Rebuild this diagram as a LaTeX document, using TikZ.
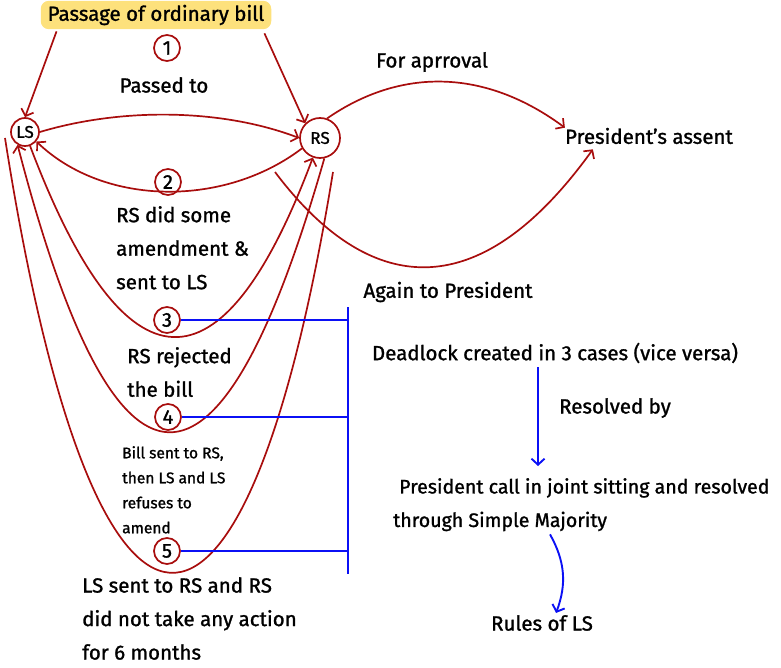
\documentclass[tikz,border=0pt]{standalone}
\usepackage{fontspec}
\setmainfont{Fira Sans}[UprightFeatures={FakeBold=1.2}]
\usetikzlibrary{arrows.meta,positioning,calc}
\definecolor{obRed}{HTML}{A80D0D}
\definecolor{obBlue}{HTML}{0B10F5}
\definecolor{obHigh}{HTML}{FDE17C}
\tikzset{
  obtext/.style={font=\fontsize{20.5}{33.5}\selectfont, align=left, inner sep=0pt},
  obsmall/.style={font=\fontsize{15.5}{25}\selectfont, align=left, inner sep=0pt},
  obtitle/.style={obtext, fill=obHigh, rounded corners=8pt, inner xsep=7pt, inner ysep=4pt},
  obhouse/.style={circle, draw=obRed, line width=1.7pt, inner sep=0pt, font=\fontsize{17}{20}\selectfont},
  obnum/.style={circle, draw=obRed, line width=1.7pt, minimum size=26pt, inner sep=0pt, font=\fontsize{20}{20}\selectfont},
  obflow/.style={-{Straight Barb[length=6pt,width=13pt]}, obRed, line width=1.7pt},
  obcurve/.style={obRed, line width=1.7pt},
  oblink/.style={obBlue, line width=1.9pt},
  obdown/.style={-{Straight Barb[length=6pt,width=13pt]}, obBlue, line width=1.9pt}
}
\begin{document}
\begin{tikzpicture}[x=1pt, y=-1pt]
  \useasboundingbox (0,0) rectangle (781,668);
  % houses and title
  \node[obtitle] (title) at (156,15) {Passage of ordinary bill};
  \node[obhouse, minimum size=28pt] (ls) at (25,132) {LS};
  \node[obhouse, minimum size=40pt] (rs) at (320,138) {RS};
  \node[obtext] (assent) at (649,136) {President’s assent};
  % step numbers
  \node[obnum] (n1) at (167,48) {1};
  \node[obnum] (n2) at (168,182) {2};
  \node[obnum] (n3) at (167,320) {3};
  \node[obnum] (n4) at (168,417) {4};
  \node[obnum] (n5) at (167,551) {5};
  % labels
  \node[obtext] (passed) at (164,85) {Passed to};
  \node[obtext, anchor=north west] (amend) at (116,206) {RS did some\\amendment \&\\sent to LS};
  \node[obtext, anchor=north west] (reject) at (127,347) {RS rejected\\the bill};
  \node[obsmall, anchor=north west] (refuse) at (122,446) {Bill sent to RS,\\then LS and LS\\refuses to\\amend};
  \node[obtext, anchor=north west] (noaction) at (82,577) {LS sent to RS and RS\\did not take any action\\for 6 months};
  \node[obtext] (approval) at (432,62) {For aprroval};
  \node[obtext] (againtxt) at (448,292) {Again to President};
  \node[obtext] (dead) at (555,353) {Deadlock created in 3 cases (vice versa)};
  \node[obtext] (resolved) at (615,408) {Resolved by};
  \node[obtext, font=\fontsize{19.6}{33.5}\selectfont, anchor=north west] (joint) at (393,478) {\hspace*{6pt}President call in joint sitting and resolved\\through Simple Majority};
  \node[obtext] (rules) at (542,623) {Rules of LS};
  % passing between the houses
  \draw[obflow] ($(title.south west)+(16,2)$) -- (ls.north);
  \draw[obflow] ($(title.south east)+(-7,4)$) -- (rs.north west);
  \draw[obflow] (ls.east) .. controls (120,108) and (220,108) .. (rs.west);
  \draw[obflow] (rs.-150) .. controls (225,207) and (105,207) .. (ls.-40);
  \draw[obflow] (ls.-70) .. controls (125,397) and (222,400) .. (rs.-110);
  \draw[obflow] (rs.-78) .. controls (219,527) and (116,524) .. (ls.-120);
  \coordinate (lowA) at (5,138);
  \coordinate (lowB) at (333,172);
  \draw[obcurve] (lowA) .. controls (95,712) and (245,712) .. (lowB);
  % to the president
  \draw[obflow] (rs.70) .. controls (400,68) and (484,68) .. (assent.north west);
  \coordinate (again) at (275,172);
  \draw[obflow] (again) .. controls (360,285) and (470,320) .. ($(assent.south west)+(28,5)$);
  % deadlock
  \coordinate (bustop) at (348,307);
  \coordinate (busbot) at (348,574);
  \draw[oblink] (bustop) -- (busbot);
  \foreach \n in {n3,n4,n5}
    \draw[oblink] (\n.east) -- (\n.east -| bustop);
  \draw[obdown] ($(dead.south)+(-17,4)$) -- ($(dead.south |- joint.north)+(-17,-12)$);
  \draw[obdown] ($(rules.north |- joint.south)+(8,3)$) to[bend left=25] ($(rules.north)+(14,-2)$);
\end{tikzpicture}
\end{document}
